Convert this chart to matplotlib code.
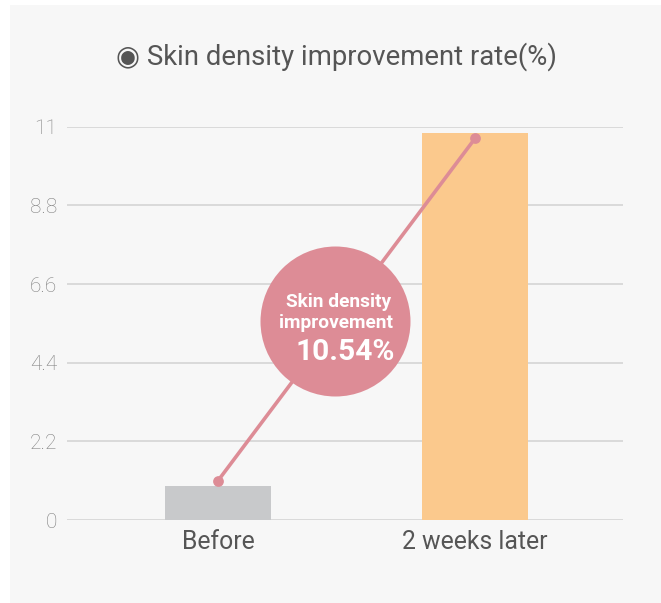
import matplotlib
matplotlib.use("Agg")
import matplotlib.pyplot as plt
from matplotlib.patches import Rectangle

plt.rcParams['font.family'] = ['Roboto', 'DejaVu Sans']

categories = ["Before", "2 weeks later"]
bar_values = [0.95, 10.81]
line_values = [1.1, 10.67]
yticks = [0, 2.2, 4.4, 6.6, 8.8, 11]
ytick_labels = ["0", "2.2", "4.4", "6.6", "8.8", "11"]
title = "\u25c9 Skin density improvement rate(%)"
callout_lines = ["Skin density", "improvement", "10.54%"]

bar_colors = ["#c8c9cb", "#fbc98d"]
pink = "#dd8c96"

W, H = 661, 603
fig = plt.figure(figsize=(W / 100, H / 100), dpi=100)
fig.patch.set_facecolor("white")
fig.patches.append(Rectangle((10 / W, 0), 1 - 10 / W, 1 - 5 / H, transform=fig.transFigure,
                             facecolor="#f7f7f7", edgecolor="none", zorder=-5))

ax = fig.add_axes([66.7 / W, 1 - 520 / H, (622.7 - 66.7) / W, (520 - 126.7) / H])
ax.set_zorder(2)
ax.set_facecolor("none")
x = list(range(len(categories)))
ax.bar(x, bar_values, width=0.41, color=bar_colors, zorder=2)
ax.plot(x, line_values, color=pink, lw=2.6, zorder=3, solid_capstyle="round")
ax.scatter(x, line_values, s=60, color=pink, zorder=3, linewidths=0)

ax.set_xlim(-0.589, 1.575)
ax.set_ylim(0, 11)
ax.set_yticks(yticks)
ax.set_yticklabels(ytick_labels)
ax.set_xticks(x)
ax.set_xticklabels(categories)
ax.grid(axis="y", color="#dadada", lw=1.4, zorder=1)
ax.set_axisbelow(True)
for s in ax.spines.values():
    s.set_visible(False)
ax.tick_params(axis="y", length=0, pad=7, labelsize=15, labelcolor="#808080")
ax.tick_params(axis="x", length=0, pad=7, labelsize=17.8, labelcolor="#555555")
for lbl in ax.get_yticklabels():
    lbl.set_fontweight("light")

# callout circle
cx, cy = 0.457, 5.57
ax.scatter([cx], [cy], s=108 ** 2, color=pink, zorder=4, linewidths=0)
ax.annotate(callout_lines[0], (cx, cy), xytext=(56, 19), textcoords="offset pixels",
            ha="right", va="center", color="white", fontsize=13.8, fontweight="bold", zorder=5)
ax.annotate(callout_lines[1], (cx, cy), xytext=(58, -2), textcoords="offset pixels",
            ha="right", va="center", color="white", fontsize=13.8, fontweight="bold", zorder=5)
ax.annotate(callout_lines[2], (cx, cy), xytext=(59, -31), textcoords="offset pixels",
            ha="right", va="center", color="white", fontsize=21.5, fontweight="bold", zorder=5)

fig.text(337 / W, 1 - 57 / H, title, ha="center", va="center", fontsize=19.8,
         color="#555555", family=["Roboto", "DejaVu Sans"])

fig.savefig("out.png", dpi=100, facecolor=fig.get_facecolor())
